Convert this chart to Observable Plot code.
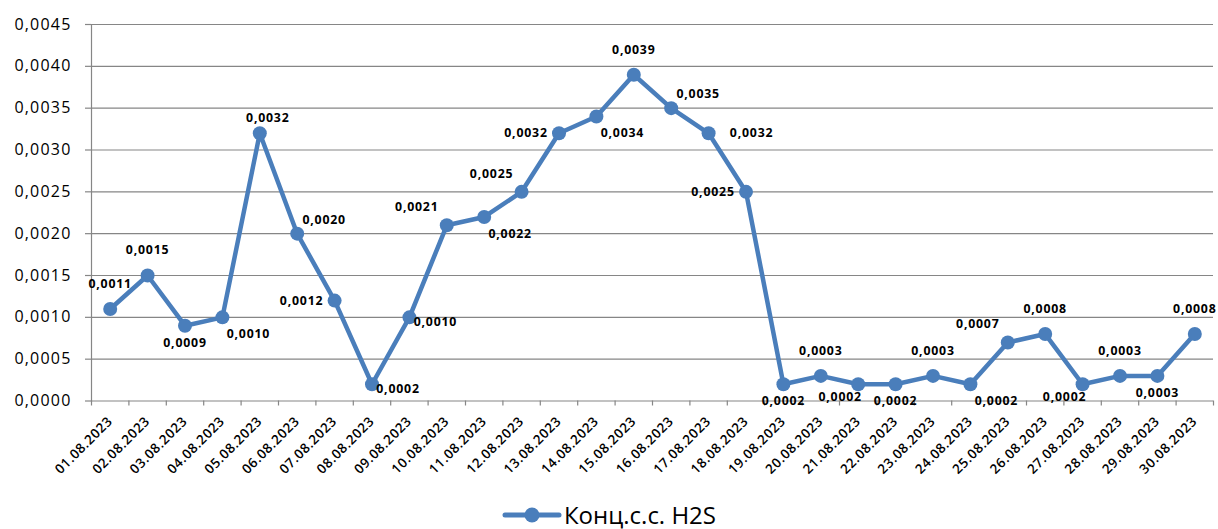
<!DOCTYPE html>
<html><head><meta charset="utf-8">
<script src="https://cdn.jsdelivr.net/npm/d3@7"></script>
<script src="https://cdn.jsdelivr.net/npm/@observablehq/plot@0.6"></script>
<style>
body{margin:0;background:#fff;overflow:hidden;}
#legend{box-sizing:border-box;height:34px;padding-top:6px;display:flex;justify-content:center;align-items:center;font-family:"Open Sans",sans-serif;font-size:24px;line-height:28px;color:#000;}
#legend svg{margin-right:2px;}
</style></head><body>
<div id="chart"></div>
<div id="legend"></div>
<script>
const dates = ["01.08.2023","02.08.2023","03.08.2023","04.08.2023","05.08.2023","06.08.2023","07.08.2023","08.08.2023","09.08.2023","10.08.2023","11.08.2023","12.08.2023","13.08.2023","14.08.2023","15.08.2023","16.08.2023","17.08.2023","18.08.2023","19.08.2023","20.08.2023","21.08.2023","22.08.2023","23.08.2023","24.08.2023","25.08.2023","26.08.2023","27.08.2023","28.08.2023","29.08.2023","30.08.2023"];
const values = [0.0011,0.0015,0.0009,0.0010,0.0032,0.0020,0.0012,0.0002,0.0010,0.0021,0.0022,0.0025,0.0032,0.0034,0.0039,0.0035,0.0032,0.0025,0.0002,0.0003,0.0002,0.0002,0.0003,0.0002,0.0007,0.0008,0.0002,0.0003,0.0003,0.0008];
const labelPlacement = ["t","t","b","br","tn","tr","l","r","r","tl","br","tl","l","br","t","tr","rf","l","b","t","bl","b","t","br","tl","t","bl","t","b","t"];
const yTicks = [0,0.0005,0.0010,0.0015,0.0020,0.0025,0.0030,0.0035,0.0040,0.0045];
const seriesName = "Конц.с.с. H2S";
const color = "#4a7ebb";

const fmt = v => v.toFixed(4).replace(".", ",");
const data = dates.map((d,i)=>({idx:i+1, date:d, value:values[i], place:labelPlacement[i]}));
const offsets = {t:[0,-25], tn:[8,-15], b:[0,17], l:[-33,0], r:[26,5], rf:[43,0], tl:[-30,-18], tr:[27,-14], bl:[-18,13], br:[26,17]};

const labelMarks = Object.entries(offsets).map(([k,[dx,dy]]) =>
  Plot.text(data.filter(d=>d.place===k), {x:"idx", y:"value", text:d=>fmt(d.value), dx, dy, fontWeight:"bold", fontSize:12.3, fill:"#000"}));

const boundaries = dates.map((d,i)=>i+0.5).concat([dates.length+0.5]);

const chart = Plot.plot({
  width:1218, height:495,
  marginLeft:91, marginRight:5, marginTop:24, marginBottom:94.5,
  style:{fontFamily:"'Open Sans', sans-serif", background:"#fff", color:"#000"},
  x:{type:"linear", domain:[0.5, dates.length+0.5]},
  y:{domain:[0,0.0045]},
  marks:[
    Plot.gridY(yTicks,{stroke:"#868686", strokeOpacity:1, strokeWidth:1.2}),
    Plot.frame({anchor:"left", stroke:"#868686", strokeWidth:1.2}),
    Plot.axisY(yTicks,{tickSize:6, tickPadding:14, tickFormat:fmt, fontSize:16, stroke:"#868686", strokeWidth:1.2, label:null}),
    Plot.axisX(boundaries,{tickSize:5, tickFormat:()=>"", stroke:"#868686", strokeWidth:1.2, label:null}),
    Plot.axisX(data.map(d=>d.idx),{tickSize:0, tickRotate:-45, tickPadding:18, tickFormat:i=>dates[i-1], fontSize:13.4, fontWeight:600, label:null}),
    Plot.line(data,{x:"idx", y:"value", stroke:color, strokeWidth:4.5}),
    Plot.dot(data,{x:"idx", y:"value", r:7, fill:color}),
    ...labelMarks
  ]
});
document.getElementById("chart").appendChild(chart);
d3.select(chart).selectAll('g[aria-label="y-axis tick label"] text').attr("letter-spacing","1.2px");
d3.select(chart).selectAll('g[aria-label="x-axis tick label"] text').attr("letter-spacing","0.6px");
d3.select(chart).selectAll('g[aria-label="text"] text').attr("letter-spacing","0.8px");

const lg = document.getElementById("legend");
lg.innerHTML = `<svg width="60" height="20"><line x1="3" x2="57" y1="10" y2="10" stroke="${color}" stroke-width="5" stroke-linecap="round"/><circle cx="30" cy="10" r="7.5" fill="${color}"/></svg><span>${seriesName}</span>`;
</script>
</body></html>
